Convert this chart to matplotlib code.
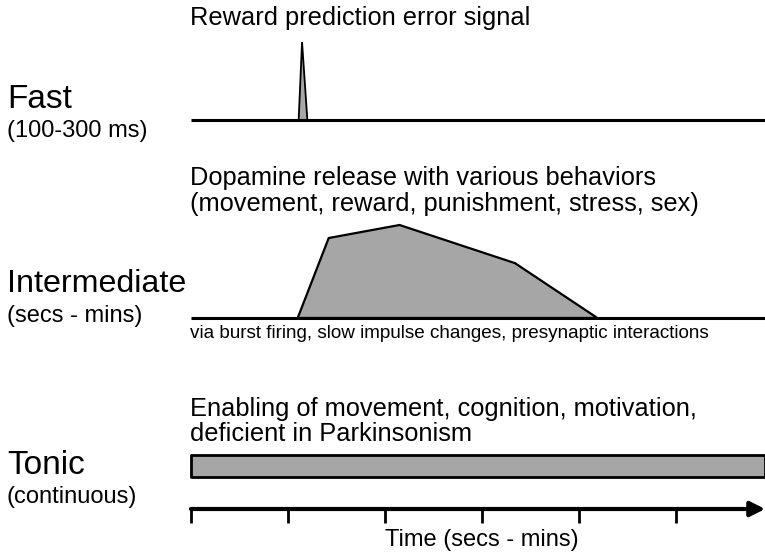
import matplotlib.pyplot as plt

plt.rcParams['font.family'] = ['Liberation Sans', 'DejaVu Sans']

# time axis (arbitrary units, one unit per tick)
tick_times = [0, 1, 2, 3, 4, 5]
t_end = 5.92

# fast phasic: reward prediction error spike
fast_t = [1.11, 1.145, 1.20]
fast_amp = [0.0, 1.0, 0.0]

# intermediate: dopamine release with behaviours
inter_t = [1.10, 1.42, 2.15, 3.34, 4.19]
inter_amp = [0.0, 0.86, 1.0, 0.59, 0.0]

# tonic: constant level
tonic_t = [0, t_end]

row_labels = ["Fast", "Intermediate", "Tonic"]
row_sublabels = ["(100-300 ms)", "(secs - mins)", "(continuous)"]

fill_gray = '#a6a6a6'

fig = plt.figure(figsize=(7.65, 5.54), dpi=100)
ax = fig.add_axes([0, 0, 1, 1])
ax.set_xlim(-1.969, 5.918)
ax.set_ylim(554, 0)
ax.axis('off')

# fast row
y_fast = 120
ax.plot([0, t_end], [y_fast, y_fast], color='black', lw=2.2, solid_capstyle='butt')
ax.fill(fast_t, [y_fast - a * 78 for a in fast_amp],
        facecolor=fill_gray, edgecolor='black', lw=1.3)

# intermediate row
y_int = 318
ax.fill(inter_t, [y_int - a * 93 for a in inter_amp],
        facecolor=fill_gray, edgecolor='black', lw=1.6)
ax.plot([0, t_end], [y_int, y_int], color='black', lw=2.2, solid_capstyle='butt')

# tonic row
ax.fill_between(tonic_t, 455, 477, facecolor=fill_gray, edgecolor='black', lw=2.0)

# time axis
y_ax = 509
ax.annotate('', xy=(t_end, y_ax), xytext=(0, y_ax),
            arrowprops=dict(arrowstyle='-|>', lw=3, color='black',
                            mutation_scale=22, shrinkA=0, shrinkB=0))
for t in tick_times:
    ax.plot([t, t], [y_ax, 523], color='black', lw=2.0, solid_capstyle='butt')

# text
big = 24
mid = 17
desc = 18.3
xl = -1.897
ax.text(xl, 100, row_labels[0], fontsize=big, va='center', ha='left')
ax.text(xl, 131, row_sublabels[0], fontsize=mid, va='center', ha='left')
ax.text(xl, 284, row_labels[1], fontsize=23.2, va='center', ha='left')
ax.text(xl, 316, row_sublabels[1], fontsize=mid, va='center', ha='left')
ax.text(xl, 466, row_labels[2], fontsize=big, va='center', ha='left')
ax.text(xl, 497, row_sublabels[2], fontsize=mid, va='center', ha='left')

xt = -0.01
ax.text(xt, 18, "Reward prediction error signal", fontsize=desc, va='center', ha='left')
ax.text(xt, 178, "Dopamine release with various behaviors", fontsize=desc, va='center', ha='left')
ax.text(xt, 204, "(movement, reward, punishment, stress, sex)", fontsize=desc, va='center', ha='left')
ax.text(xt, 334, "via burst firing, slow impulse changes, presynaptic interactions",
        fontsize=13.6, va='center', ha='left')
ax.text(xt, 409, "Enabling of movement, cognition, motivation,", fontsize=desc, va='center', ha='left')
ax.text(xt, 434, "deficient in Parkinsonism", fontsize=desc, va='center', ha='left')
ax.text(3.0, 540, "Time (secs - mins)", fontsize=mid, va='center', ha='center')

fig.savefig('out.png', dpi=100)
